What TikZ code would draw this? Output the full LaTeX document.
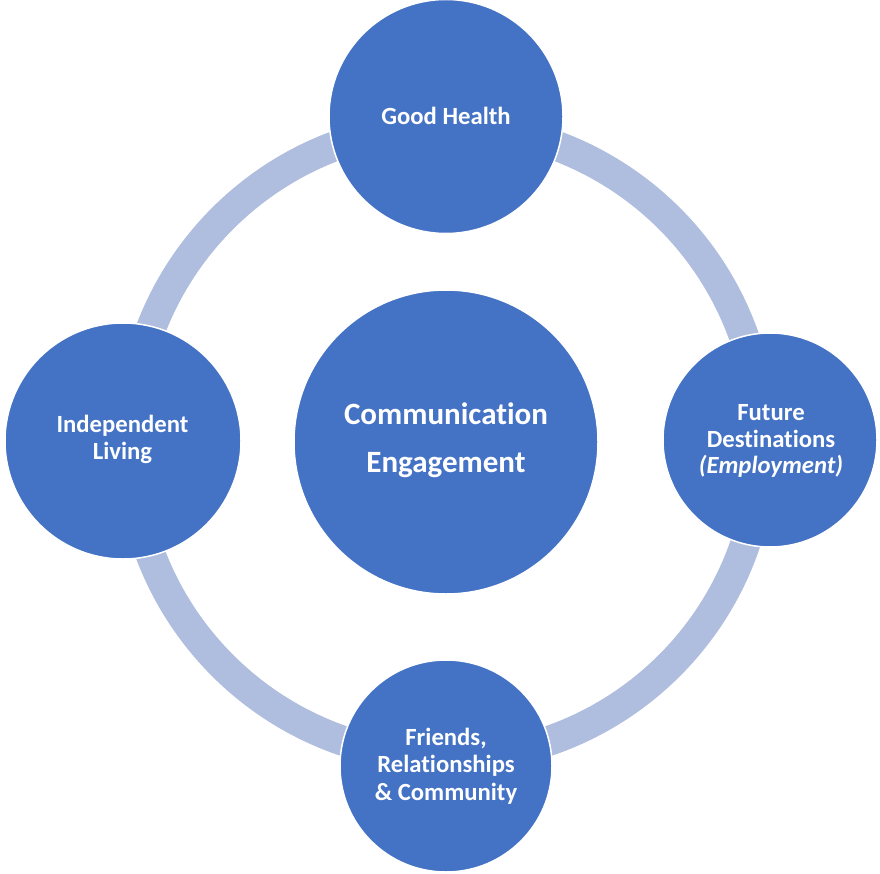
\documentclass[tikz,border=0pt]{standalone}
\usepackage{fontspec}
\setmainfont{Carlito}[Ligatures={NoCommon,NoContextual}]
\definecolor{bluefill}{HTML}{4472C4}
\definecolor{ringcol}{HTML}{AFBDDE}
\newcommand{\nolig}{\kern0pt }
\begin{document}
\begin{tikzpicture}[x=1pt,y=-1pt,
  bubble/.style={circle,fill=bluefill,draw=white,line width=1.5pt,inner sep=0pt,minimum size=#1},
  lbl/.style={anchor=base,text=white,inner sep=0pt,font=\fontsize{24.7}{26}\selectfont\bfseries},
  biglbl/.style={anchor=base,text=white,inner sep=0pt,font=\fontsize{31}{36}\selectfont\bfseries}]
\useasboundingbox (0,0) rectangle (880,874);
\coordinate (c) at (446,442);
\draw[ringcol,line width=30pt] (c) circle[radius=316];
\node[bubble=304pt] (center) at (446,442) {};
\node[bubble=234pt] (health) at (446,116.5) {};
\node[bubble=236pt] (living) at (123,441) {};
\node[bubble=214pt] (future) at (770,440) {};
\node[bubble=212pt] (friends) at (446,766) {};
% texts
\node[biglbl] (t1) at (446,424) {Communicat\nolig ion};
\node[biglbl] (t2) at (446,472) {Engagement};
\node[lbl] (t3) at (446,125) {Good Health};
\node[lbl] (t4) at (122.5,432) {Independent};
\node[lbl] (t5) at (122.5,459) {Living};
\node[lbl] (t6) at (771,420) {Future};
\node[lbl] (t7) at (771,447) {Dest\nolig inat\nolig ions};
\node[lbl] (t8) at (771,473) {\itshape(Employment)};
\node[lbl] (t9) at (446,745) {Friends,};
\node[lbl] (t10) at (446,772) {Relat\nolig ionships};
\node[lbl] (t11) at (446,800) {\& Community};
\end{tikzpicture}
\end{document}
